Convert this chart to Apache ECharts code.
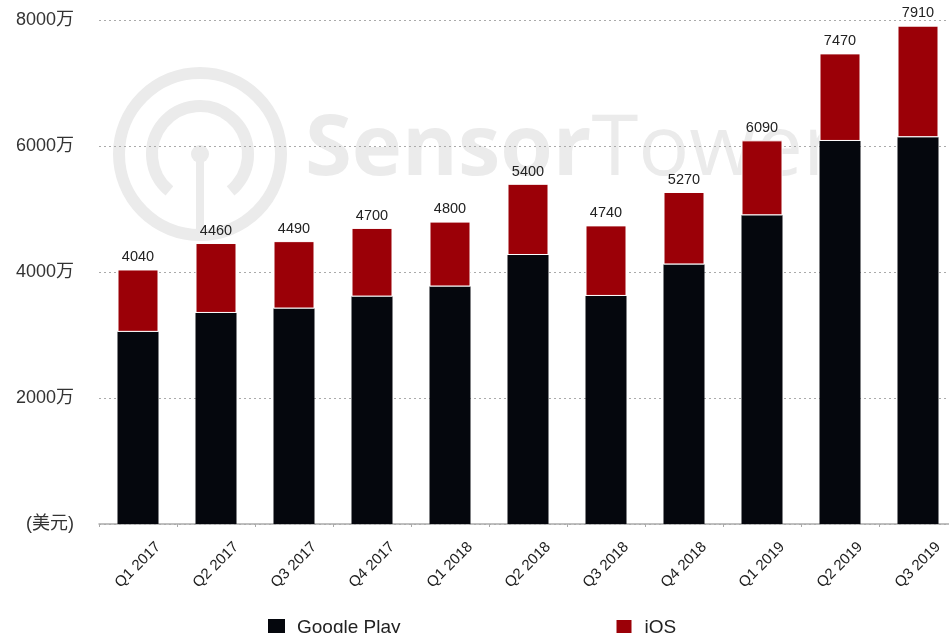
<!DOCTYPE html>
<html>
<head>
<meta charset="utf-8">
<script src="https://cdn.jsdelivr.net/npm/echarts@6/dist/echarts.min.js"></script>
<style>
html,body{margin:0;padding:0;background:#fff;}
#c{width:949px;height:633px;}
</style>
</head>
<body>
<div id="c"></div>
<script>
const categories = ['Q1 2017','Q2 2017','Q3 2017','Q4 2017','Q1 2018','Q2 2018','Q3 2018','Q4 2018','Q1 2019','Q2 2019','Q3 2019'];
const googlePlay = [3050, 3350, 3420, 3610, 3770, 4270, 3620, 4120, 4900, 6080, 6140];
const ios = [990, 1110, 1070, 1090, 1030, 1130, 1120, 1150, 1190, 1390, 1770];
const totals = [4040, 4460, 4490, 4700, 4800, 5400, 4740, 5270, 6090, 7470, 7910];
const yTickLabels = {0: '(美元)', 2000: '2000万', 4000: '4000万', 6000: '6000万', 8000: '8000万'};

const chart = echarts.init(document.getElementById('c'));
const wm = '#ebebeb';
chart.setOption({
  backgroundColor: '#fff',
  animation: false,
  textStyle: { fontFamily: 'Liberation Sans, Noto Sans CJK SC, sans-serif' },
  graphic: [
    { type: 'circle', z: -10, shape: { cx: 200, cy: 154, r: 81 }, style: { fill: 'none', stroke: wm, lineWidth: 12 } },
    { type: 'arc', z: -10, shape: { cx: 200, cy: 154, r: 48, startAngle: Math.PI * 0.72, endAngle: Math.PI * 2.28 }, style: { fill: 'none', stroke: wm, lineWidth: 12 } },
    { type: 'circle', z: -10, shape: { cx: 200, cy: 154, r: 9 }, style: { fill: wm } },
    { type: 'rect', z: -10, shape: { x: 196, y: 154, width: 8, height: 82 }, style: { fill: wm } },
    { type: 'text', z: -10, left: 305, top: 108, style: {
        text: '{a|Sensor}{b|Tower}',
        rich: {
          a: { fontSize: 85, fontWeight: 'bold', fill: wm, fontFamily: 'Open Sans, Liberation Sans' },
          b: { fontSize: 85, fontWeight: 'normal', fill: wm, fontFamily: 'Open Sans, Liberation Sans' }
        }
      } }
  ],
  legend: {
    left: 263, top: 613,
    itemWidth: 17, itemHeight: 17, itemGap: 214,
    icon: 'rect',
    textStyle: { fontSize: 19, color: '#222', padding: [0, 0, 0, 7] },
    data: ['Google Play', 'iOS']
  },
  grid: { left: 99, top: 20, width: 858, height: 504, outerBoundsMode: 'none' },
  xAxis: {
    type: 'category',
    data: categories,
    axisLine: { lineStyle: { color: '#aaa', width: 1.5 } },
    axisTick: { show: true, length: 3, lineStyle: { color: '#aaa' } },
    axisLabel: { rotate: 45, fontSize: 15, color: '#222', margin: 41, align: 'center', verticalAlign: 'middle' }
  },
  yAxis: {
    type: 'value', min: 0, max: 8000, interval: 2000,
    axisLine: { show: false }, axisTick: { show: false },
    axisLabel: { fontSize: 18, color: '#333', margin: 25, formatter: v => yTickLabels[v] },
    splitLine: { lineStyle: { type: [2, 3], color: '#aaa', width: 1 } }
  },
  series: [
    { name: 'Google Play', type: 'bar', stack: 't', data: googlePlay, barWidth: 41,
      itemStyle: { color: '#05070d' } },
    { name: 'iOS', type: 'bar', stack: 't', data: ios, barWidth: 41,
      itemStyle: { color: '#9b0007', borderColor: '#fff', borderWidth: 1 },
      label: { show: true, position: 'top', distance: 5, fontSize: 14.5, color: '#222',
        formatter: p => String(totals[p.dataIndex]) } }
  ]
});
</script>
</body>
</html>
